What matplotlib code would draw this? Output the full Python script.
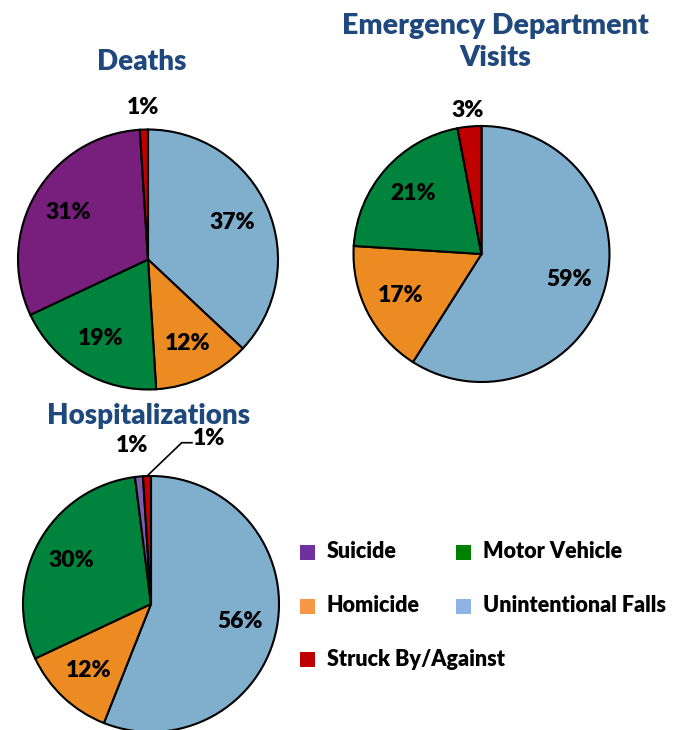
import numpy as np
import matplotlib.pyplot as plt
from matplotlib.patches import Rectangle

plt.rcParams['font.family'] = ['Lato', 'DejaVu Sans']
plt.rcParams['font.weight'] = 'bold'

# order of slices, clockwise from 12 o'clock
categories = ['Unintentional Falls', 'Homicide', 'Motor Vehicle', 'Suicide', 'Struck By/Against']
deaths = [37, 12, 19, 31, 1]
ed_visits = [59, 17, 21, 0, 3]
hospital = [56, 12, 30, 1, 1]

falls_c, hom_c, mv_c, red_c = '#7FAFCD', '#EC8B22', '#00843D', '#C00000'
deaths_colors = [falls_c, hom_c, mv_c, '#781E7C', red_c]
ed_colors = [falls_c, hom_c, mv_c, '#781E7C', red_c]
hosp_colors = [falls_c, hom_c, mv_c, '#7A5CB0', red_c]

# legend, row by row
legend_labels = ['Suicide', 'Motor Vehicle', 'Homicide', 'Unintentional Falls', 'Struck By/Against']
legend_colors = ['#7030A0', '#008000', '#F79646', '#8DB4E2', '#C00000']

title_color = '#1F497D'
W, H = 685, 730
PCT_SIZE = 16.5

fig = plt.figure(figsize=(6.85, 7.30), dpi=100)


def pie_axes(cx, cy, r):
    return fig.add_axes([(cx - r) / W, (H - cy - r) / H, 2 * r / W, 2 * r / H])


def draw_pie(ax, values, colors):
    wedges, _, autotexts = ax.pie(
        values, colors=colors, startangle=90, counterclock=False,
        autopct=lambda p: f'{p:.0f}%' if p >= 5 else '', pctdistance=0.71,
        wedgeprops=dict(edgecolor='black', linewidth=1.5),
        textprops=dict(fontsize=PCT_SIZE, fontweight='heavy', color='black'))
    ax.set_xlim(-1, 1)
    ax.set_ylim(-1, 1)
    return wedges


def mid_point(w, dist):
    a = np.deg2rad((w.theta1 + w.theta2) / 2)
    return dist * np.cos(a), dist * np.sin(a)


# Deaths
ax1 = pie_axes(148, 259.5, 130)
w1 = draw_pie(ax1, deaths, deaths_colors)
x, y = mid_point(w1[4], 1.17)
ax1.text(x, y, f'{deaths[4]}%', ha='center', va='center', fontsize=PCT_SIZE, fontweight='heavy')

# Emergency Department Visits
ax2 = pie_axes(481.5, 254, 128)
w2 = draw_pie(ax2, ed_visits, ed_colors)
x, y = mid_point(w2[4], 1.13)
ax2.text(x, y, f'{ed_visits[4]}%', ha='center', va='center', fontsize=PCT_SIZE, fontweight='heavy')

# Hospitalizations
ax3 = pie_axes(151, 604, 128)
w3 = draw_pie(ax3, hospital, hosp_colors)
x, y = mid_point(w3[3], 1.24)
ax3.text(x - 0.03, y, f'{hospital[3]}%', ha='center', va='center', fontsize=PCT_SIZE, fontweight='heavy')
ex, ey = mid_point(w3[4], 1.0)
ax3.plot([ex, 0.24, 0.32], [ey, 1.26, 1.26], color='black', lw=1.2, clip_on=False)
ax3.text(0.33, 1.29, f'{hospital[4]}%', ha='left', va='center', fontsize=PCT_SIZE, fontweight='heavy')

# titles
fig.text(142 / W, 1 - 62 / H, 'Deaths', ha='center', va='center',
         fontsize=20, fontweight='heavy', color=title_color)
fig.text(495 / W, 1 - 42 / H, 'Emergency Department\nVisits', ha='center', va='center',
         fontsize=20.5, fontweight='heavy', color=title_color, linespacing=1.33)
fig.text(149 / W, 1 - 416 / H, 'Hospitalizations', ha='center', va='center',
         fontsize=20, fontweight='heavy', color=title_color)

# legend drawn by hand: two columns, three rows
col_x = [300, 456]
row_y = [552, 606, 659]
sq = 15
for i, (lab, col) in enumerate(zip(legend_labels, legend_colors)):
    cx = col_x[i % 2]
    cy = row_y[i // 2]
    fig.add_artist(Rectangle((cx / W, (H - cy - sq / 2) / H), sq / W, sq / H,
                             transform=fig.transFigure, facecolor=col, edgecolor='none'))
    fig.text((cx + 27) / W, 1 - cy / H, lab, ha='left', va='center',
             fontsize=15.5, fontweight='heavy', color='black')

fig.savefig('out.png', dpi=100)
